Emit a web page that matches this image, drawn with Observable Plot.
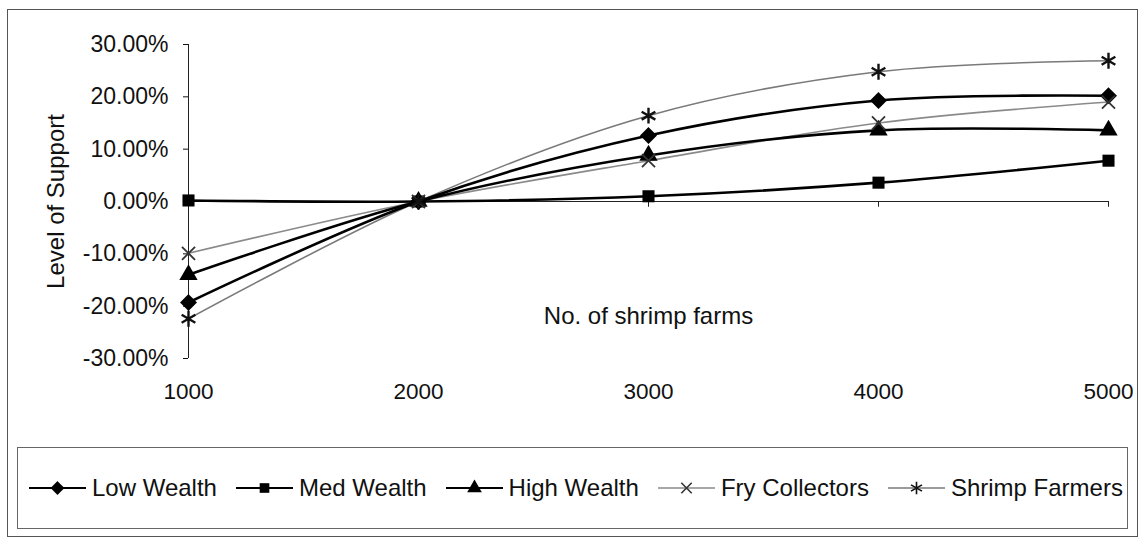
<!DOCTYPE html>
<html>
<head>
<meta charset="utf-8">
<script src="https://cdn.jsdelivr.net/npm/d3@7"></script>
<script src="https://cdn.jsdelivr.net/npm/@observablehq/plot@0.6"></script>
<style>
  html, body { margin: 0; padding: 0; background: #fff; }
  body { width: 1142px; height: 540px; position: relative; overflow: hidden; font-family: "Liberation Sans", Arial, sans-serif; }
  #frame { position: absolute; left: 7px; top: 9px; width: 1131px; height: 528px; border: 1px solid #555; box-sizing: border-box; }
  #chart { position: absolute; left: 0; top: 0; }
  #legend { position: absolute; left: 17px; top: 447px; width: 1111px; height: 82px; border: 1px solid #666; box-sizing: border-box;
            display: flex; align-items: center; padding-left: 11px; gap: 19px; font-size: 24px; color: #111; }
  .item { display: flex; align-items: center; gap: 6px; white-space: nowrap; }
  .item svg { display: block; }
</style>
</head>
<body>
<div id="frame"></div>
<div id="chart"></div>
<div id="legend"></div>
<script>
// ---- data ----
const farms = [1000, 2000, 3000, 4000, 5000];
const seriesNames = ["Low Wealth", "Med Wealth", "High Wealth", "Fry Collectors", "Shrimp Farmers"];
const lowWealth     = [-0.193, 0, 0.126, 0.193, 0.202];
const medWealth     = [0.002, 0, 0.010, 0.036, 0.078];
const highWealth    = [-0.140, 0, 0.088, 0.136, 0.136];
const fryCollectors = [-0.099, 0, 0.078, 0.150, 0.190];
const shrimpFarmers = [-0.224, 0, 0.164, 0.248, 0.269];
const yTicks = [-0.3, -0.2, -0.1, 0, 0.1, 0.2, 0.3];
const xTicks = [1000, 2000, 3000, 4000, 5000];

const valuesBySeries = [lowWealth, medWealth, highWealth, fryCollectors, shrimpFarmers];
const styles = {
  "Low Wealth":     {line: "#000", width: 2.6, symbol: "diamond2", fill: "#000", stroke: "#000", r: 6.5, sw: 1.8},
  "Med Wealth":     {line: "#000", width: 2.6, symbol: "square",   fill: "#000", stroke: "none", r: 6.8, sw: 1.8},
  "High Wealth":    {line: "#000", width: 2.6, symbol: "triangle", fill: "#000", stroke: "none", r: 6.8, sw: 1.8},
  "Fry Collectors": {line: "#8a8a8a", width: 1.6, symbol: "times",    fill: "none", stroke: "#333", r: 6, sw: 1.8},
  "Shrimp Farmers": {line: "#7a7a7a", width: 1.6, symbol: "asterisk", fill: "none", stroke: "#111", r: 7.5, sw: 2.4}
};
const d3Symbols = {diamond2: d3.symbolDiamond2, square: d3.symbolSquare, triangle: d3.symbolTriangle, times: d3.symbolTimes, asterisk: d3.symbolAsterisk};

const data = seriesNames.flatMap((s, i) => farms.map((f, j) => ({series: s, farms: f, value: valuesBySeries[i][j]})));

const marks = [
  Plot.ruleY([0], {stroke: "#222", strokeWidth: 1}),
  Plot.ruleX([1000], {y1: () => -0.3, y2: () => 0.3, stroke: "#222", strokeWidth: 1}),
  Plot.ruleX(xTicks, {x: d => d, y1: () => 0, y2: () => -0.011, stroke: "#222"}),
  Plot.axisY({ticks: yTicks, tickFormat: d => (d * 100).toFixed(2) + "%", tickSize: 5, tickPadding: 15,
              label: "Level of Support", labelAnchor: "center", labelArrow: "none", labelOffset: 142, fontSize: 23}),
  Plot.axisX({ticks: xTicks, tickFormat: d => String(d), tickSize: 0, tickPadding: 25, label: null, fontSize: 22.5}),
  Plot.text(["No. of shrimp farms"], {frameAnchor: "bottom", dy: -35, fontSize: 24, fill: "#111"})
];
// gray lines first, then black lines on top
for (const s of ["Fry Collectors", "Shrimp Farmers", "Low Wealth", "Med Wealth", "High Wealth"]) {
  const st = styles[s];
  const d = data.filter(r => r.series === s);
  marks.push(Plot.line(d, {x: "farms", y: "value", stroke: st.line, strokeWidth: st.width, curve: "catmull-rom"}));
}
for (const s of seriesNames) {
  const st = styles[s];
  const d = data.filter(r => r.series === s);
  marks.push(Plot.dot(d, {x: "farms", y: "value", symbol: () => st.symbol, r: st.r, fill: st.fill, stroke: st.stroke, strokeWidth: st.sw}));
}

const chart = Plot.plot({
  width: 1142,
  height: 440,
  marginLeft: 188,
  marginRight: 34,
  marginTop: 44,
  marginBottom: 82,
  style: {fontFamily: "'Liberation Sans', Arial, sans-serif", fontSize: "23px", color: "#111", background: "transparent"},
  x: {type: "linear", domain: [1000, 5000]},
  y: {domain: [-0.3, 0.3]},
  symbol: {type: "identity"},
  marks
});
chart.querySelectorAll("[aria-label='y-axis label'] text, [aria-label='y-axis label']").forEach(el => el.setAttribute("font-size", 24));
document.getElementById("chart").appendChild(chart);

// legend
const legend = document.getElementById("legend");
for (const s of seriesNames) {
  const st = styles[s];
  const item = document.createElement("div");
  item.className = "item";
  const w = 57, h = 20;
  const sw = d3.create("svg").attr("width", w).attr("height", h);
  sw.append("line").attr("x1", 0).attr("x2", w).attr("y1", h / 2).attr("y2", h / 2)
    .attr("stroke", st.line).attr("stroke-width", st.width * 0.8);
  const sym = d3.symbol(d3Symbols[st.symbol], Math.PI * (st.r * 0.8) ** 2);
  sw.append("path").attr("d", sym()).attr("transform", `translate(${w / 2},${h / 2})`)
    .attr("fill", st.fill).attr("stroke", st.stroke).attr("stroke-width", 1.6);
  item.appendChild(sw.node());
  const t = document.createElement("span");
  t.textContent = s;
  item.appendChild(t);
  legend.appendChild(item);
}
</script>
</body>
</html>
